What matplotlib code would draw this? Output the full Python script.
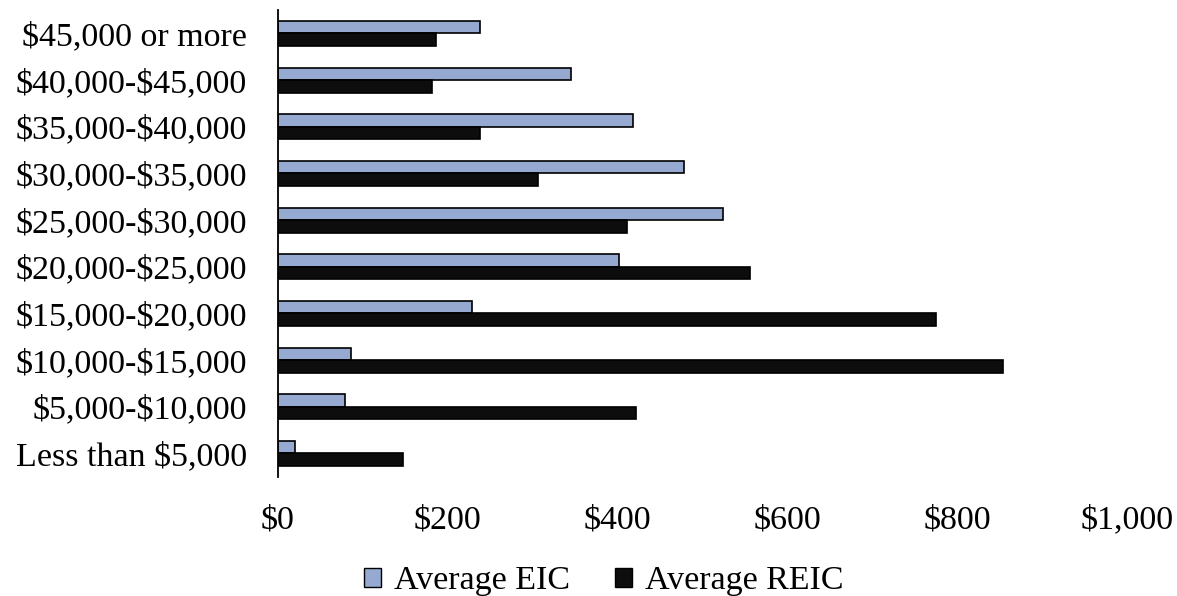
import matplotlib
matplotlib.use("Agg")
import matplotlib.pyplot as plt
import numpy as np
from matplotlib.patches import Patch

# Income brackets, top to bottom as drawn
brackets = ["$45,000 or more", "$40,000-$45,000", "$35,000-$40,000",
            "$30,000-$35,000", "$25,000-$30,000", "$20,000-$25,000",
            "$15,000-$20,000", "$10,000-$15,000", "$5,000-$10,000",
            "Less than $5,000"]
avg_eic = [238, 345, 418, 478, 524, 401, 229, 86, 79, 20]
avg_reic = [186, 181, 238, 306, 411, 556, 774, 854, 422, 147]

x_ticks = [0, 200, 400, 600, 800, 1000]

plt.rcParams["font.family"] = ["Liberation Serif", "DejaVu Serif"]
plt.rcParams["text.parse_math"] = False

fig = plt.figure(figsize=(11.77, 5.96), dpi=100)
ax = fig.add_axes([0.236, 0.2, 0.722, 0.783])

y = np.arange(len(brackets))
h = 0.27
ax.barh(y - h / 2, avg_eic, height=h, color="#95A9D1",
        edgecolor="black", linewidth=1.2, label="Average EIC")
ax.barh(y + h / 2, avg_reic, height=h, color="#0D0D0D",
        edgecolor="black", linewidth=1.2, label="Average REIC")

ax.set_ylim(len(brackets) - 0.5, -0.5)
ax.set_yticks(y)
ax.set_yticklabels(brackets, fontsize=24.5)
ax.set_xlim(0, 1000)
ax.set_xticks(x_ticks)
ax.set_xticklabels([f"${v:,}" for v in x_ticks], fontsize=24.5)
ax.tick_params(axis="x", length=0, pad=20)
ax.tick_params(axis="y", length=0, pad=22)

for side in ("top", "right", "bottom"):
    ax.spines[side].set_visible(False)
ax.spines["left"].set_linewidth(1.3)

handles = [Patch(facecolor="#95A9D1", edgecolor="black", label="Average EIC"),
           Patch(facecolor="#0D0D0D", edgecolor="black", label="Average REIC")]
fig.legend(handles=handles, loc="center", bbox_to_anchor=(0.513, 0.025),
           ncol=2, frameon=False, fontsize=24.5, handlelength=0.5,
           handleheight=0.5, handletextpad=0.4, columnspacing=1.3)

fig.savefig("out.png", dpi=100)
